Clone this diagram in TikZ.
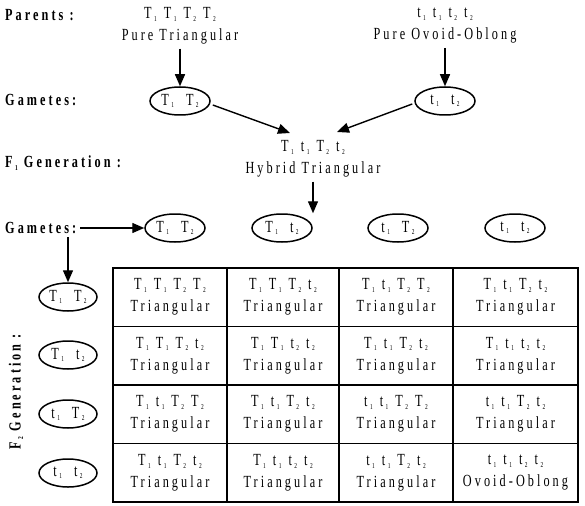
\documentclass[tikz,border=0pt]{standalone}
\usepackage{fontspec}
\setmainfont{Liberation Serif}[FakeStretch=0.72,LetterSpace=18]
\usetikzlibrary{arrows.meta,shapes.geometric}
\newcommand\sbs[1]{\kern2.5pt\raisebox{-0.3ex}{\fontsize{7.5}{9}\selectfont #1}}
\newcommand\gsp{\hspace{7pt}}
\newcommand\esp{\hspace{12pt}}
\newcommand\gTa{T\sbs1}
\newcommand\gta{t\sbs1}
\newcommand\gTb{T\sbs2}
\newcommand\gtb{t\sbs2}
\tikzset{
  base/.style={font=\fontsize{17}{22}\selectfont, inner sep=0pt},
  lbl/.style={base, font=\fontsize{17}{22}\selectfont\bfseries, anchor=west},
  gam/.style={base, draw, ellipse, line width=1.5pt, minimum width=60pt, minimum height=28pt},
  txt/.style={base, align=center},
  arr/.style={line width=1.4pt, -{Triangle[length=12pt,width=10pt]}},
  grid/.style={line width=1.4pt}
}
\begin{document}
\begin{tikzpicture}[x=1pt,y=-1pt]
\useasboundingbox (0,0) rectangle (585,505);
% labels
\node[lbl] (lp) at (5,15) {Parents :};
\node[lbl] (lg1) at (5,100) {Gametes:};
\node[lbl] (lf1) at (5,163) {F\sbs1 Generation :};
\node[lbl] (lg2) at (5,228) {Gametes:};
\node[base, font=\fontsize{17}{22}\selectfont\bfseries, rotate=90] (lf2) at (16,392) {F\sbs2 Generation :};
% parents
\node[txt] (pA) at (180,26) {\gTa\gsp\gTa\gsp\gTb\gsp\gTb\\Pure Triangular};
\node[txt] (pB) at (445,26) {\gta\gsp\gta\gsp\gtb\gsp\gtb\\Pure Ovoid-Oblong};
\node[gam] (gA) at (180,101) {\gTa\esp\gTb};
\node[gam] (gB) at (445,101) {\gta\esp\gtb};
\draw[arr] (pA.south) ++(0,4) coordinate (pAs) (pAs) -- (gA.north);
\draw[arr] (pB.south) ++(0,4) coordinate (pBs) (pBs) -- (gB.north);
% hybrid
\node[txt] (hyb) at (313,159) {\gTa\gsp\gta\gsp\gTb\gsp\gtb\\Hybrid Triangular};
\coordinate (h1) at (290,133);
\coordinate (h2) at (337,132);
\draw[arr] (gA.east) ++(2,4) coordinate (gAe) (gAe) -- (h1);
\draw[arr] (gB.west) ++(-2,3) coordinate (gBw) (gBw) -- (h2);
% gametes row
\node[gam] (g1) at (175,228) {\gTa\esp\gTb};
\node[gam] (g2) at (282,228) {\gTa\esp\gtb};
\node[gam] (g3) at (398,228) {\gta\esp\gTb};
\node[gam] (g4) at (515,228) {\gta\esp\gtb};
\draw[arr] (hyb.south) ++(0,4) coordinate (hs) (hs) -- (hs |- g2.north);
\draw[arr] (lg2.east) ++(4,0) coordinate (lge) (lge) -- (g1.west);
% row gametes
\node[gam, minimum width=58pt] (r1) at (68,297) {\gTa\esp\gTb};
\node[gam, minimum width=58pt] (r2) at (68,355) {\gTa\esp\gtb};
\node[gam, minimum width=58pt] (r3) at (68,414) {\gta\esp\gTb};
\node[gam, minimum width=58pt] (r4) at (68,473) {\gta\esp\gtb};
\coordinate (ld) at (68,237);
\draw[arr] (ld) -- (r1.north);
% table
\draw[grid] (113,268) rectangle (578,502);
\foreach \x in {227,339,453} \draw[grid] (\x,268) -- (\x,502);
\foreach \y in {326.5,385,443.5} \draw[grid] (113,\y) -- (578,\y);
% cells
\def\ph{Triangular}
\node[txt] (c11) at (170,297) {\gTa\gsp\gTa\gsp\gTb\gsp\gTb\\\ph};
\node[txt] (c12) at (283,297) {\gTa\gsp\gTa\gsp\gTb\gsp\gtb\\\ph};
\node[txt] (c13) at (396,297) {\gTa\gsp\gta\gsp\gTb\gsp\gTb\\\ph};
\node[txt] (c14) at (515.5,297) {\gTa\gsp\gta\gsp\gTb\gsp\gtb\\\ph};
\node[txt] (c21) at (170,355.5) {\gTa\gsp\gTa\gsp\gTb\gsp\gtb\\\ph};
\node[txt] (c22) at (283,355.5) {\gTa\gsp\gTa\gsp\gtb\gsp\gtb\\\ph};
\node[txt] (c23) at (396,355.5) {\gTa\gsp\gta\gsp\gTb\gsp\gtb\\\ph};
\node[txt] (c24) at (515.5,355.5) {\gTa\gsp\gta\gsp\gtb\gsp\gtb\\\ph};
\node[txt] (c31) at (170,414) {\gTa\gsp\gta\gsp\gTb\gsp\gTb\\\ph};
\node[txt] (c32) at (283,414) {\gTa\gsp\gta\gsp\gTb\gsp\gtb\\\ph};
\node[txt] (c33) at (396,414) {\gta\gsp\gta\gsp\gTb\gsp\gTb\\\ph};
\node[txt] (c34) at (515.5,414) {\gta\gsp\gta\gsp\gTb\gsp\gtb\\\ph};
\node[txt] (c41) at (170,473) {\gTa\gsp\gta\gsp\gTb\gsp\gtb\\\ph};
\node[txt] (c42) at (283,473) {\gTa\gsp\gta\gsp\gtb\gsp\gtb\\\ph};
\node[txt] (c43) at (396,473) {\gta\gsp\gta\gsp\gTb\gsp\gtb\\\ph};
\node[txt] (c44) at (515.5,473) {\gta\gsp\gta\gsp\gtb\gsp\gtb\\Ovoid-Oblong};
\end{tikzpicture}
\end{document}
